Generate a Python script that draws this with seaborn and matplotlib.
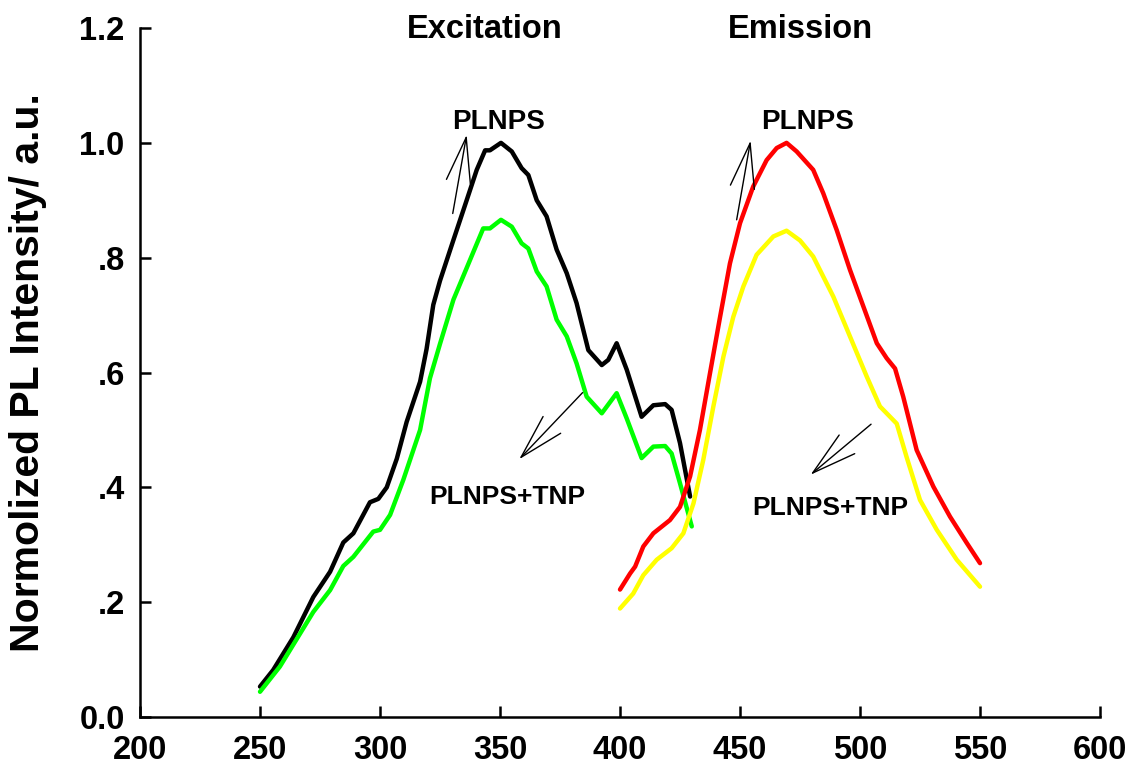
import pandas as pd
import matplotlib
matplotlib.use("Agg")
import matplotlib.pyplot as plt
import seaborn as sns

# excitation spectra (nm, normalized intensity)
exc_nm_plnps = [250, 255.5, 263.9, 272.2, 279.2, 284.7, 288.9, 295.8, 299.3, 302.8, 307.0, 311.1,
                316.7, 319.4, 322.2, 325.0, 330.6, 336.1, 340.3, 343.8, 345.8, 350.4, 354.9, 359.0,
                361.8, 365.3, 369.4, 373.6, 377.8, 381.9, 386.8, 392.4, 395.1, 398.6, 402.8, 409.0,
                413.9, 418.8, 421.5, 425.0, 429.2]
exc_int_plnps = [0.053, 0.082, 0.139, 0.209, 0.253, 0.304, 0.320, 0.374, 0.380, 0.400, 0.450, 0.514,
                 0.584, 0.641, 0.718, 0.760, 0.831, 0.900, 0.953, 0.987, 0.987, 1.000, 0.985, 0.956,
                 0.944, 0.900, 0.872, 0.814, 0.773, 0.721, 0.639, 0.613, 0.622, 0.651, 0.605, 0.523,
                 0.543, 0.545, 0.535, 0.477, 0.384]

exc_nm_tnp = [250, 258.3, 272.2, 279.2, 284.7, 288.9, 297.2, 300.0, 304.2, 309.7, 316.7, 320.8,
              325.0, 330.6, 337.5, 343.0, 345.8, 350.4, 354.9, 359.0, 361.8, 365.3, 369.4, 373.6,
              377.8, 381.9, 386.1, 392.4, 398.6, 402.8, 409.0, 413.9, 418.8, 421.5, 425.0, 429.9]
exc_int_tnp = [0.044, 0.088, 0.183, 0.221, 0.263, 0.279, 0.323, 0.326, 0.352, 0.413, 0.500, 0.590,
               0.650, 0.727, 0.796, 0.851, 0.851, 0.866, 0.854, 0.825, 0.816, 0.776, 0.750, 0.692,
               0.663, 0.616, 0.558, 0.529, 0.564, 0.520, 0.451, 0.471, 0.472, 0.459, 0.407, 0.332]

# emission spectra
em_nm_plnps = [400.0, 404.2, 406.3, 409.7, 413.9, 420.8, 425.0, 429.2, 433.3, 437.5, 441.7, 445.8,
               450.0, 455.5, 461.1, 465.3, 469.4, 473.6, 480.5, 484.7, 490.3, 495.8, 501.4, 507.0,
               511.1, 514.6, 518.0, 523.6, 530.6, 537.5, 544.5, 550.0]
em_int_plnps = [0.222, 0.250, 0.262, 0.297, 0.320, 0.343, 0.366, 0.419, 0.500, 0.599, 0.697, 0.790,
                0.860, 0.924, 0.970, 0.991, 1.000, 0.985, 0.953, 0.912, 0.848, 0.779, 0.715, 0.651,
                0.625, 0.607, 0.558, 0.465, 0.401, 0.349, 0.303, 0.268]

em_nm_tnp = [400.0, 405.5, 409.7, 415.3, 421.5, 426.4, 430.6, 434.7, 438.9, 443.1, 447.2, 451.4,
             456.9, 463.9, 469.4, 475.0, 480.5, 488.9, 495.8, 502.8, 508.3, 512.5, 515.3, 519.4,
             525.0, 532.0, 540.3, 550.0]
em_int_tnp = [0.189, 0.215, 0.247, 0.274, 0.294, 0.320, 0.372, 0.448, 0.541, 0.628, 0.697, 0.750,
              0.805, 0.837, 0.847, 0.830, 0.802, 0.732, 0.663, 0.593, 0.541, 0.523, 0.511, 0.453,
              0.378, 0.326, 0.274, 0.227]

x_ticks = [200, 250, 300, 350, 400, 450, 500, 550, 600]
y_ticks = [0.0, 0.2, 0.4, 0.6, 0.8, 1.0, 1.2]
y_ticklabels = ['0.0', '.2', '.4', '.6', '.8', '1.0', '1.2']

sns.set_style("ticks", {'axes.edgecolor': 'black', 'text.color': 'black',
                        'xtick.color': 'black', 'ytick.color': 'black',
                        'axes.labelcolor': 'black'})
plt.rcParams['font.family'] = ['Liberation Sans', 'DejaVu Sans']
plt.rcParams['font.weight'] = 'bold'

fig = plt.figure(figsize=(11.31, 7.72), dpi=100)
ax = fig.add_axes([0.1238, 0.0712, 0.8488, 0.8925])

series = [
    (exc_nm_plnps, exc_int_plnps, '#000000'),
    (exc_nm_tnp, exc_int_tnp, '#00ff00'),
    (em_nm_plnps, em_int_plnps, '#ff0000'),
    (em_nm_tnp, em_int_tnp, '#ffff00'),
]
for nm, inten, col in series:
    df = pd.DataFrame({'nm': nm, 'intensity': inten})
    sns.lineplot(data=df, x='nm', y='intensity', color=col, lw=3.2, sort=False,
                 estimator=None, ax=ax)

ax.set_xlim(200, 600)
ax.set_ylim(0, 1.2)
ax.set_xticks(x_ticks)
ax.set_yticks(y_ticks)
ax.set_yticklabels(y_ticklabels)
ax.tick_params(direction='in', length=8, width=1.8, labelsize=23.5, pad=11,
               colors='black')
ax.tick_params(axis='x', pad=13)
for lab in ax.get_xticklabels() + ax.get_yticklabels():
    lab.set_fontweight('bold')
sns.despine(ax=ax)
for s in ['left', 'bottom']:
    ax.spines[s].set_linewidth(1.8)
    ax.spines[s].set_color('black')

ax.set_xlabel('')
ax.set_ylabel('Normolized PL Intensity/ a.u.', fontsize=29.5, fontweight='bold', color='black')
ax.yaxis.set_label_coords(-0.097, 0.5)

# headers and labels
ax.text(343.8, 1.197, 'Excitation', fontsize=23.5, fontweight='bold', ha='center', va='center')
ax.text(475.2, 1.197, 'Emission', fontsize=23.5, fontweight='bold', ha='center', va='center')
ax.text(349.2, 1.036, 'PLNPS', fontsize=20, fontweight='bold', ha='center', va='center')
ax.text(478.3, 1.036, 'PLNPS', fontsize=20, fontweight='bold', ha='center', va='center')
ax.text(352.9, 0.383, 'PLNPS+TNP', fontsize=19, fontweight='bold', ha='center', va='center')
ax.text(487.5, 0.364, 'PLNPS+TNP', fontsize=19, fontweight='bold', ha='center', va='center')

# thin arrows
arrow_style = dict(arrowstyle='->,head_length=1.4,head_width=0.38', lw=1, color='black',
                   shrinkA=0, shrinkB=0, mutation_scale=23)
arrows = [
    ((336.1, 1.014), (330.3, 0.877)),
    ((454.4, 1.004), (448.6, 0.866)),
    ((358.0, 0.449), (384.4, 0.565)),
    ((479.4, 0.422), (504.6, 0.510)),
]
for tip, tail in arrows:
    ax.annotate('', xy=tip, xytext=tail, arrowprops=arrow_style)

plt.savefig('out.png', dpi=100)
